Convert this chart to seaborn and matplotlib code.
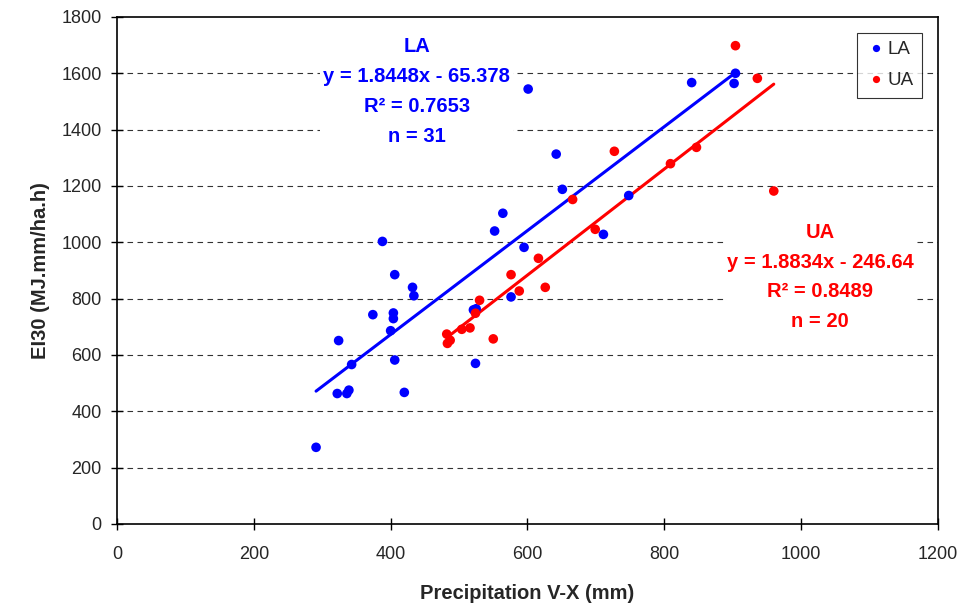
import numpy as np
import pandas as pd
import matplotlib
matplotlib.use('Agg')
import matplotlib.pyplot as plt
import seaborn as sns

# values
la_x = [291, 322, 324, 336, 339, 343, 374, 388, 400, 404, 404, 406, 406, 420, 432, 434,
        521, 525, 524, 552, 564, 576, 595, 601, 642, 651, 711, 748, 840, 902, 904]
la_y = [272, 463, 651, 463, 475, 566, 743, 1003, 686, 749, 729, 885, 582, 467, 840, 810,
        760, 764, 570, 1040, 1103, 806, 982, 1544, 1313, 1188, 1028, 1166, 1567, 1564, 1600]
ua_x = [482, 483, 487, 504, 516, 524, 530, 550, 576, 588, 616, 626, 666, 699, 727,
        809, 847, 904, 936, 960]
ua_y = [674, 641, 652, 691, 696, 748, 794, 657, 885, 827, 943, 840, 1152, 1046, 1323,
        1279, 1337, 1698, 1582, 1182]

groups = ['LA', 'UA']
slopes = [1.8448, 1.8834]
intercepts = [-65.378, -246.64]
r2 = ['0.7653', '0.8489']
counts = [31, 20]
colors = {'LA': '#0000ff', 'UA': '#ff0000'}

df = pd.DataFrame({
    'x': la_x + ua_x,
    'y': la_y + ua_y,
    'site': ['LA'] * len(la_x) + ['UA'] * len(ua_x),
})

sns.set_style('white')
plt.rcParams['font.family'] = ['Liberation Sans', 'DejaVu Sans']

fig = plt.figure(figsize=(9.65, 6.05), dpi=100)
ax = fig.add_axes([0.1212, 0.134, 0.8508, 0.838])

# grid lines
for yv in range(200, 1800, 200):
    ax.axhline(yv, color='#333333', lw=0.8, ls=(0, (5, 4)), zorder=0)

# regression lines from the fitted equations
for g, a, b in zip(groups, slopes, intercepts):
    xs = df.loc[df['site'] == g, 'x']
    xl = np.array([xs.min(), xs.max()])
    ax.plot(xl, a * xl + b, color=colors[g], lw=2.2, zorder=2)

sns.scatterplot(data=df, x='x', y='y', hue='site', palette=colors, s=48,
                edgecolor='none', ax=ax, zorder=4)

ax.set_xlim(0, 1200)
ax.set_ylim(0, 1800)
ax.set_xticks(range(0, 1201, 200))
ax.set_yticks(range(0, 1801, 200))
ax.tick_params(axis='both', direction='inout', length=8, width=1, color='black',
               labelsize=13, left=True, bottom=True)
ax.tick_params(axis='y', pad=7)
ax.tick_params(axis='x', pad=12)
for sp in ax.spines.values():
    sp.set_color('black')
    sp.set_linewidth(1.2)

ax.set_xlabel('Precipitation V-X (mm)', fontsize=14.5, fontweight='bold', labelpad=15)
ax.set_ylabel('EI30 (MJ.mm/ha.h)', fontsize=14.5, fontweight='bold', labelpad=8)

leg = ax.legend(loc='upper right', bbox_to_anchor=(0.9805, 0.969), borderaxespad=0,
                frameon=True, fancybox=False, edgecolor='black', fontsize=13.5,
                handletextpad=0.05, markerscale=0.75, borderpad=0.45,
                labelspacing=0.75, handlelength=1.1)
leg.get_frame().set_linewidth(0.8)

# equation annotations, white text boxes hide the grid behind them
txt_pos = [(438, 1535), (1028, 877)]
for g, a, b, r, n, (tx, ty) in zip(groups, slopes, intercepts, r2, counts, txt_pos):
    block = '\n'.join([g, f'y = {a}x - {abs(b)}', f'R\u00b2 = {r}', f'n = {n}'])
    ax.text(tx, ty, block, color=colors[g], fontsize=14.5, fontweight='bold',
            ha='center', va='center', multialignment='center', linespacing=1.72,
            zorder=3, bbox=dict(facecolor='white', edgecolor='none', pad=2))

fig.savefig('out.png', dpi=100)
